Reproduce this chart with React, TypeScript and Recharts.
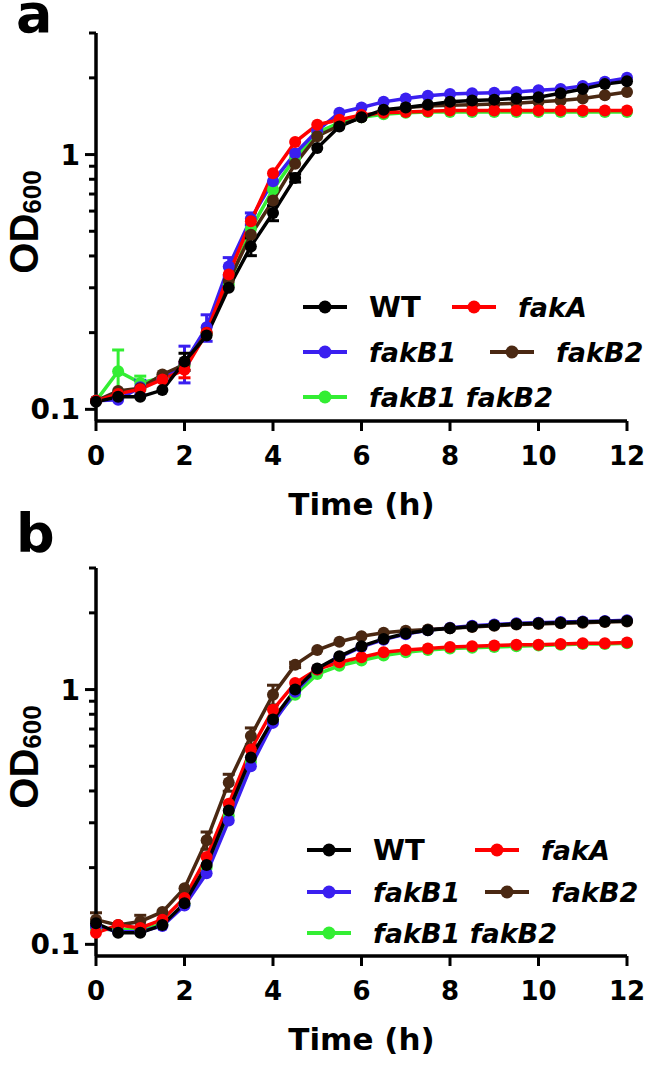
import React from "react";
import { LineChart, Line, XAxis, YAxis, ErrorBar, Legend, Label } from "recharts";

const time = [0, 0.5, 1, 1.5, 2, 2.5, 3, 3.5, 4, 4.5, 5, 5.5, 6, 6.5, 7, 7.5, 8, 8.5, 9, 9.5, 10, 10.5, 11, 11.5, 12];
const xTicks = [0, 2, 4, 6, 8, 10, 12];
const yTicks = [0.1, 0.2, 0.3, 0.4, 0.5, 0.6, 0.7, 0.8, 0.9, 1, 2, 3];
const yLabelled = [0.1, 1];

const names = ["WT", "fakA", "fakB1", "fakB2", "fakB1 fakB2"];
const colors = ["#000000", "#ff0000", "#3a1ff0", "#4a2812", "#33ee33"];
const drawOrder = [4, 2, 3, 1, 0];

// panel a
const aWT = [0.107, 0.112, 0.112, 0.119, 0.154, 0.195, 0.3, 0.436, 0.59, 0.81, 1.06, 1.29, 1.4, 1.5, 1.53, 1.57, 1.61, 1.63, 1.64, 1.66, 1.68, 1.74, 1.81, 1.89, 1.94];
const aFakA = [0.108, 0.115, 0.12, 0.131, 0.143, 0.2, 0.338, 0.547, 0.845, 1.12, 1.31, 1.37, 1.43, 1.46, 1.47, 1.48, 1.49, 1.49, 1.49, 1.49, 1.49, 1.49, 1.49, 1.49, 1.49];
const aFakB1 = [0.108, 0.109, 0.122, 0.132, 0.152, 0.21, 0.364, 0.56, 0.785, 1.01, 1.24, 1.46, 1.53, 1.61, 1.66, 1.7, 1.73, 1.74, 1.75, 1.76, 1.79, 1.81, 1.86, 1.93, 2.0];
const aFakB2 = [0.108, 0.118, 0.121, 0.137, 0.15, 0.2, 0.32, 0.484, 0.66, 0.92, 1.18, 1.3, 1.4, 1.48, 1.53, 1.55, 1.56, 1.57, 1.58, 1.59, 1.61, 1.63, 1.66, 1.71, 1.76];
const aDouble = [0.108, 0.141, 0.127, 0.133, 0.148, 0.198, 0.31, 0.51, 0.73, 0.97, 1.22, 1.33, 1.4, 1.44, 1.46, 1.47, 1.47, 1.47, 1.47, 1.47, 1.47, 1.47, 1.47, 1.47, 1.47];
const aWTErr = [0, 0, 0, 0, 0.012, 0, 0, 0.035, 0.04, 0.03, 0, 0, 0, 0, 0, 0, 0, 0, 0, 0, 0, 0, 0, 0, 0];
const aFakAErr = [0, 0, 0, 0, 0.01, 0, 0, 0, 0, 0, 0, 0, 0, 0, 0, 0, 0, 0, 0, 0, 0, 0, 0, 0, 0];
const aFakB1Err = [0, 0, 0.008, 0, 0.025, 0.025, 0.03, 0.03, 0, 0, 0, 0, 0, 0, 0, 0, 0, 0, 0, 0, 0, 0, 0, 0, 0];
const aFakB2Err = [0, 0, 0, 0, 0, 0, 0, 0, 0, 0, 0, 0, 0, 0, 0, 0, 0, 0, 0, 0, 0, 0, 0, 0, 0];
const aDoubleErr = [0, 0.03, 0.008, 0, 0, 0, 0, 0, 0, 0, 0, 0, 0, 0, 0, 0, 0, 0, 0, 0, 0, 0, 0, 0, 0];

// panel b
const bWT = [0.121, 0.111, 0.111, 0.119, 0.145, 0.205, 0.335, 0.541, 0.763, 1.0, 1.21, 1.35, 1.48, 1.58, 1.66, 1.71, 1.74, 1.77, 1.79, 1.81, 1.82, 1.83, 1.84, 1.85, 1.86];
const bFakA = [0.111, 0.119, 0.116, 0.125, 0.152, 0.22, 0.356, 0.582, 0.834, 1.06, 1.2, 1.28, 1.34, 1.4, 1.43, 1.45, 1.47, 1.48, 1.49, 1.5, 1.5, 1.51, 1.52, 1.52, 1.53];
const bFakB1 = [0.118, 0.112, 0.112, 0.118, 0.142, 0.19, 0.306, 0.5, 0.74, 0.98, 1.2, 1.34, 1.47, 1.57, 1.65, 1.71, 1.75, 1.78, 1.8, 1.82, 1.83, 1.84, 1.85, 1.86, 1.87];
const bFakB2 = [0.125, 0.119, 0.123, 0.134, 0.166, 0.256, 0.432, 0.657, 0.955, 1.25, 1.43, 1.54, 1.62, 1.67, 1.7, 1.72, 1.74, 1.76, 1.78, 1.8, 1.81, 1.82, 1.83, 1.84, 1.85];
const bDouble = [0.115, 0.114, 0.114, 0.12, 0.143, 0.2, 0.32, 0.52, 0.76, 0.955, 1.15, 1.24, 1.3, 1.36, 1.4, 1.43, 1.45, 1.46, 1.47, 1.48, 1.49, 1.5, 1.51, 1.51, 1.52];
const bWTErr = [0, 0, 0, 0, 0, 0, 0, 0, 0, 0, 0, 0, 0, 0, 0, 0, 0, 0, 0, 0, 0, 0, 0, 0, 0];
const bFakAErr = [0, 0, 0, 0, 0, 0, 0, 0, 0, 0, 0, 0, 0, 0, 0, 0, 0, 0, 0, 0, 0, 0, 0, 0, 0];
const bFakB1Err = [0, 0, 0, 0, 0, 0, 0, 0, 0, 0, 0, 0, 0, 0, 0, 0, 0, 0, 0, 0, 0, 0, 0, 0, 0];
const bFakB2Err = [0.008, 0, 0.007, 0, 0, 0.02, 0.033, 0.05, 0.085, 0.03, 0, 0, 0, 0, 0, 0, 0, 0, 0, 0, 0, 0, 0, 0, 0];
const bDoubleErr = [0, 0, 0, 0, 0, 0, 0, 0, 0, 0, 0, 0, 0, 0, 0, 0, 0, 0, 0, 0, 0, 0, 0, 0, 0];

const FONT = "'DejaVu Sans', sans-serif";
const W = 645;
const H = 540;

const buildRows = (series: number[][], errs: number[][]) =>
  time.map((t, i) => {
    const row: Record<string, number> = { t };
    series.forEach((s, k) => {
      row["s" + k] = s[i];
      row["e" + k] = errs[k][i];
    });
    return row;
  });

const YTick = (props: any) => {
  const { x, y, payload } = props;
  const major = yLabelled.includes(payload.value);
  return (
    <g>
      <line x1={x} x2={x - (major ? 11 : 7)} y1={y} y2={y} stroke="#000" strokeWidth={3} />
      {major && (
        <text x={x - 16} y={y} dy="0.36em" textAnchor="end" fontFamily={FONT} fontWeight="bold" fontSize={28} fill="#000">
          {payload.value}
        </text>
      )}
    </g>
  );
};

const XTitle = (props: any) => {
  const { x, y, width } = props.viewBox;
  return (
    <text x={x + width / 2} y={y + 94} textAnchor="middle" fontFamily={FONT} fontWeight="bold" fontSize={31} fill="#000">
      Time (h)
    </text>
  );
};

const YTitle = (props: any) => {
  const { x, y, height } = props.viewBox;
  const cx = x + 38;
  const cy = y + height / 2 - 5;
  return (
    <text x={cx} y={cy} transform={`rotate(-90, ${cx}, ${cy})`} textAnchor="middle" fontFamily="'Liberation Sans', Arial, sans-serif" fontWeight="bold" fontSize={40} fill="#000">
      <tspan>OD</tspan>
      <tspan fontSize={26} dy={3}>600</tspan>
    </text>
  );
};

const makeLegend = (slots: number[][]) => (props: any) => {
  const payload = props.payload || [];
  const items = names.map((n) => payload.find((p: any) => p.value === n)).filter(Boolean);
  return (
    <svg width={W} height={H} style={{ display: "block", overflow: "visible" }}>
      {items.map((p: any, i: number) => {
        const [x, y] = slots[i];
        return (
          <g key={p.value}>
            <line x1={x} x2={x + 44} y1={y} y2={y} stroke={p.color} strokeWidth={4} />
            <circle cx={x + 22} cy={y} r={6.5} fill={p.color} />
            <text x={x + 66} y={y} dy="0.36em" fontFamily={FONT} fontWeight="bold" fontStyle={p.value === "WT" ? "normal" : "italic"} fontSize={p.value === "WT" ? 29 : 27} fill="#000">
              {p.value}
            </text>
          </g>
        );
      })}
    </svg>
  );
};

function Panel({ letter, letterY, series, errs, slots }: { letter: string; letterY: number; series: number[][]; errs: number[][]; slots: number[][] }) {
  const data = buildRows(series, errs);
  return (
    <div style={{ position: "relative", width: W, height: H }}>
      <LineChart width={W} height={H} data={data} margin={{ top: 33, right: 18, bottom: 89, left: 0 }}>
        <XAxis
          dataKey="t"
          type="number"
          domain={[0, 12]}
          ticks={xTicks}
          height={30}
          axisLine={{ stroke: "#000", strokeWidth: 3.5 }}
          tickLine={{ stroke: "#000", strokeWidth: 3 }}
          tickSize={10}
          tickMargin={16}
          tick={{ fill: "#000", fontSize: 26, fontWeight: "bold", fontFamily: FONT }}
        >
          <Label content={XTitle} />
        </XAxis>
        <YAxis
          type="number"
          scale="log"
          domain={[0.09, 3]}
          allowDataOverflow
          ticks={yTicks}
          width={96}
          axisLine={{ stroke: "#000", strokeWidth: 3.5 }}
          tickLine={false}
          tickSize={0}
          tickMargin={0}
          tick={<YTick />}
          interval={0}
        >
          <Label content={YTitle} />
        </YAxis>
        <Legend
          layout="vertical"
          align="center"
          verticalAlign="middle"
          content={makeLegend(slots)}
          wrapperStyle={{ position: "absolute", left: 0, top: 0, width: W, height: H, pointerEvents: "none" }}
        />
        {drawOrder.map((k) => (
          <Line
            key={k}
            type="linear"
            dataKey={"s" + k}
            name={names[k]}
            stroke={colors[k]}
            strokeWidth={3.5}
            dot={{ r: 6, fill: colors[k], stroke: colors[k], strokeWidth: 0 }}
            activeDot={false}
            isAnimationActive={false}
          >
            <ErrorBar dataKey={"e" + k} direction="y" width={6} strokeWidth={3} stroke={colors[k]} />
          </Line>
        ))}
      </LineChart>
      <svg width={80} height={80} style={{ position: "absolute", left: 0, top: 0, overflow: "visible" }}>
        <text x={16} y={letterY} fontFamily={FONT} fontWeight="bold" fontSize={54} fill="#000">
          {letter}
        </text>
      </svg>
    </div>
  );
}

const slotsA = [[303, 307], [452, 307], [303, 352], [490, 352], [303, 397]];
const slotsB = [[307, 315], [475, 315], [307, 357], [485, 357], [307, 398]];

export default function App() {
  return (
    <div style={{ position: "absolute", left: 0, top: 0, width: W, height: 1083, background: "#fff" }}>
      <div style={{ position: "absolute", left: 0, top: 0 }}>
        <Panel letter="a" letterY={32} series={[aWT, aFakA, aFakB1, aFakB2, aDouble]} errs={[aWTErr, aFakAErr, aFakB1Err, aFakB2Err, aDoubleErr]} slots={slotsA} />
      </div>
      <div style={{ position: "absolute", left: 0, top: 535 }}>
        <Panel letter="b" letterY={17} series={[bWT, bFakA, bFakB1, bFakB2, bDouble]} errs={[bWTErr, bFakAErr, bFakB1Err, bFakB2Err, bDoubleErr]} slots={slotsB} />
      </div>
    </div>
  );
}
